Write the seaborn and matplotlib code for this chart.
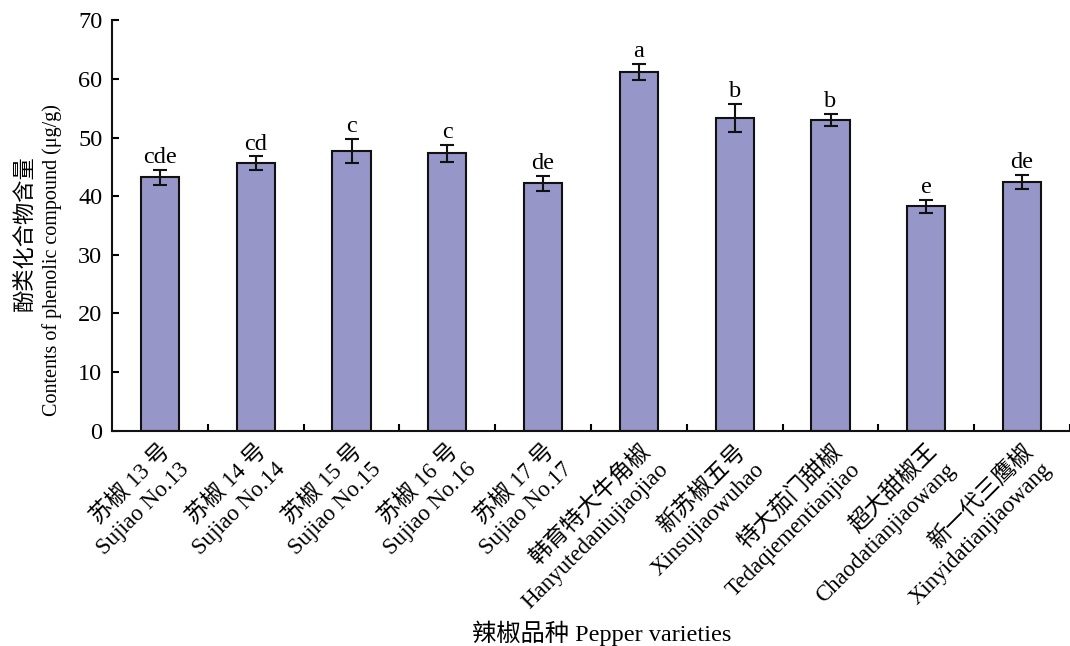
import numpy as np
import pandas as pd
import matplotlib
matplotlib.use("Agg")
import matplotlib.pyplot as plt
import seaborn as sns

# Dados
varieties = [
    "苏椒 13 号\nSujiao No.13",
    "苏椒 14 号\nSujiao No.14",
    "苏椒 15 号\nSujiao No.15",
    "苏椒 16 号\nSujiao No.16",
    "苏椒 17 号\nSujiao No.17",
    "韩育特大牛角椒\nHanyutedaniujiaojiao",
    "新苏椒五号\nXinsujiaowuhao",
    "特大茄门甜椒\nTedaqiementianjiao",
    "超大甜椒王\nChaodatianjiaowang",
    "新一代三鹰椒\nXinyidatianjiaowang",
]
phenolic = [43.2, 45.6, 47.7, 47.3, 42.2, 61.2, 53.4, 53.0, 38.3, 42.4]
errors = [1.3, 1.2, 2.1, 1.4, 1.3, 1.4, 2.4, 1.0, 1.1, 1.25]
letters = ["cde", "cd", "c", "c", "de", "a", "b", "b", "e", "de"]

df = pd.DataFrame({"variety": varieties, "phenolic": phenolic})

sns.set_style("ticks")
fonts = ["Liberation Serif", "Noto Sans CJK SC"]
plt.rcParams["font.family"] = fonts
plt.rcParams["text.color"] = "black"
plt.rcParams["xtick.color"] = "black"
plt.rcParams["ytick.color"] = "black"

fig = plt.figure(figsize=(10.7, 6.46), dpi=100)
ax = fig.add_axes([0.1047, 0.3333, 0.8953, 0.6353])

sns.barplot(data=df, x="variety", y="phenolic", color="#9696c8", saturation=1,
            width=0.4, edgecolor="#111111", linewidth=1.5, ax=ax)

x = np.arange(len(varieties))
ax.errorbar(x, phenolic, yerr=errors, fmt="none", ecolor="#111111",
            elinewidth=1.5, capsize=5, capthick=1.5)

for i in range(len(varieties)):
    ax.text(i, phenolic[i] + errors[i] + 0.3, letters[i], ha="center", va="bottom",
            fontsize=17.5)

ax.set_xlim(-0.5, len(varieties) - 0.5)
ax.set_ylim(0, 70)
ax.set_yticks(range(0, 71, 10))

# marcas do eixo x entre as categorias
ax.set_xticks(np.arange(0.5, len(varieties) - 0.5 + 1, 1.0), minor=True)
ax.tick_params(axis="x", which="major", length=0, pad=7)
ax.tick_params(axis="x", which="minor", direction="in", length=5, width=1.5)
ax.tick_params(axis="y", direction="in", length=5, width=1.5, labelsize=17.5, pad=7)
ax.set_xticklabels(varieties, rotation=45, ha="right", va="top",
                   rotation_mode="anchor", fontsize=16.5, linespacing=1.3)

for s in ["top", "right"]:
    ax.spines[s].set_visible(False)
for s in ["left", "bottom"]:
    ax.spines[s].set_linewidth(1.5)
    ax.spines[s].set_color("#111111")

ax.set_xlabel("")
ax.set_ylabel("")
fig.text(602 / 1070, 1 - 633 / 646, "辣椒品种 Pepper varieties", ha="center",
         va="center", fontsize=17.5)
fig.text(25 / 1070, 1 - 233 / 646, "酚类化合物含量", rotation=90, ha="center",
         va="center", fontsize=16)
fig.text(52 / 1070, 1 - 260 / 646, "Contents of phenolic compound (μg/g)",
         rotation=90, ha="center", va="center", fontsize=14.5)

plt.savefig("out.png", dpi=100)
